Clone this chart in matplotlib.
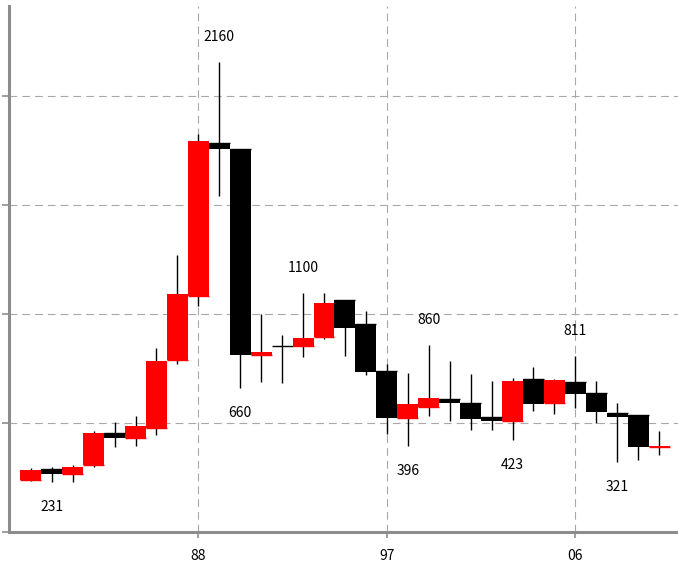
import matplotlib
matplotlib.use("Agg")
import matplotlib.pyplot as plt

plt.rcParams['font.family'] = ['Noto Sans CJK JP', 'DejaVu Sans']

years = list(range(1980, 2011))
opens  = [240, 289, 269, 309, 454, 434, 480, 790, 1084, 1787, 1758, 813, 856, 856, 897,
          1066, 956, 741, 526, 576, 610, 592, 530, 512, 702, 592, 691, 640, 546, 538, 392]
highs  = [293, 301, 309, 466, 507, 533, 847, 1272, 1826, 2160, 1758, 1001, 905, 1100, 1100,
          1066, 1016, 771, 729, 860, 786, 726, 694, 709, 757, 703, 811, 694, 595, 538, 465]
lows   = [237, 231, 232, 298, 393, 397, 446, 772, 1040, 1544, 660, 691, 683, 803, 887,
          809, 722, 450, 396, 535, 511, 469, 469, 423, 558, 543, 572, 500, 321, 332, 355]
closes = [286, 268, 301, 454, 431, 488, 786, 1093, 1796, 1760, 813, 827, 854, 890, 1053,
          939, 737, 523, 589, 618, 592, 521, 509, 694, 589, 699, 635, 550, 528, 390, 394]

tick_years = [1988, 1997, 2006]
tick_labels = ["88", "97", "06"]
y_grid = [0, 500, 1000, 1500, 2000]

high_label_years = [1989, 1993, 1999, 2006]
low_label_years = [1981, 1990, 1998, 2003, 2008]

UP = "#ff0000"
DOWN = "#000000"

fig = plt.figure(figsize=(6.78, 5.66), dpi=100)
ax = fig.add_axes([9/678, 33.7/566, 669/678, 526.3/566])

colors = [UP if c >= o else DOWN for o, c in zip(opens, closes)]
bottoms = [min(o, c) for o, c in zip(opens, closes)]
heights = [abs(c - o) for o, c in zip(opens, closes)]

ax.vlines(years, lows, highs, color="black", lw=1.0, zorder=2)
ax.bar(years, heights, bottom=bottoms, width=1.0, color=colors, linewidth=0, zorder=3)
for x, o, col in zip(years, opens, colors):
    ax.hlines(o, x - 0.5, x + 0.5, color=col, lw=1.0, zorder=3)

for yr in high_label_years:
    i = years.index(yr)
    ax.annotate(str(highs[i]), (yr, highs[i]), xytext=(0, 18), textcoords="offset points",
                ha="center", va="center", fontsize=10, color="black")
for yr in low_label_years:
    i = years.index(yr)
    ax.annotate(str(lows[i]), (yr, lows[i]), xytext=(0, -18), textcoords="offset points",
                ha="center", va="center", fontsize=10, color="black")

ax.set_xlim(1978.96, 2010.9)
ax.set_ylim(0, 2415)
ax.set_xticks(tick_years)
ax.set_xticklabels(tick_labels, fontsize=10)
ax.set_yticks(y_grid)
ax.set_yticklabels([])

ax.grid(True, color="#a8a8a8", lw=0.8, linestyle=(0, (7, 4.5)), zorder=0)
ax.set_axisbelow(True)

for s in ["top", "right"]:
    ax.spines[s].set_visible(False)
for s in ["left", "bottom"]:
    ax.spines[s].set_color("#8c8c8c")
    ax.spines[s].set_linewidth(2.2)

ax.tick_params(axis="both", colors="#8c8c8c", width=1.2, length=4, direction="out")
ax.tick_params(axis="x", labelcolor="black", pad=8)
ax.tick_params(axis="y", length=5)

fig.savefig("out.png", dpi=100)
